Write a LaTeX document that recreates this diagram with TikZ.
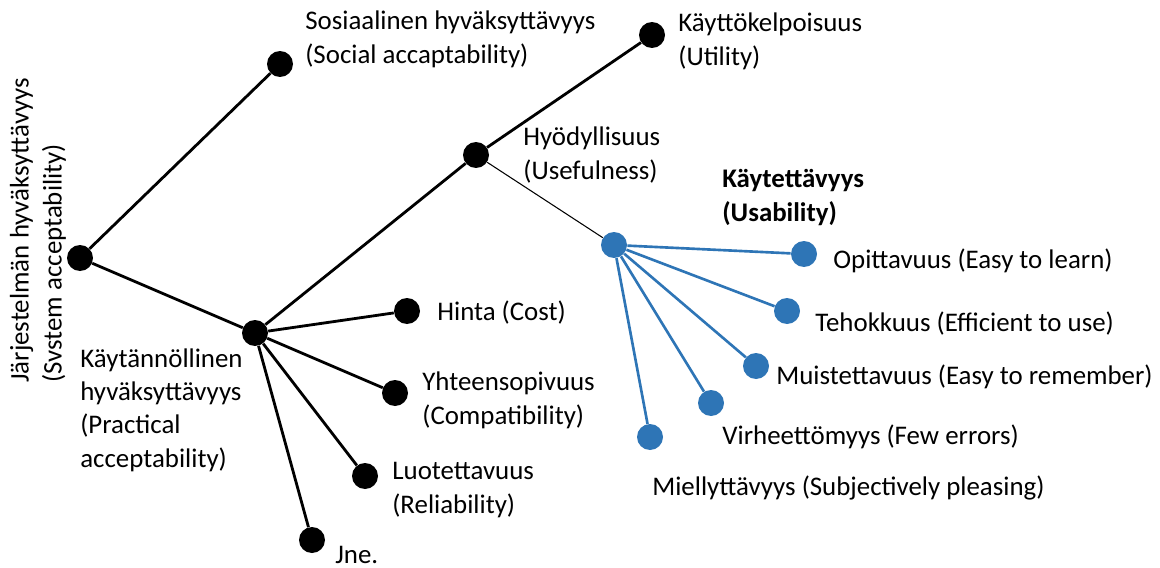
\documentclass[tikz,border=0pt]{standalone}
\usepackage{fontspec}
\setmainfont{Carlito}
\definecolor{usab}{RGB}{46,117,182}

\begin{document}
\begin{tikzpicture}[x=0.02cm,y=-0.02cm,font=\fontsize{15.3}{18.8}\selectfont,
    dot/.style={circle,fill=black,inner sep=0pt,minimum size=0.52cm},
    bdot/.style={dot,fill=usab},
    lbl/.style={anchor=base west,inner sep=0pt,align=left},
    br/.style={line width=1.6pt},
    bbr/.style={line width=1.5pt,draw=usab}]
    \useasboundingbox (0,0) rectangle (1160,568);
    % the acceptability tree
    \node[dot] (R) at (80,258) {};
    \node[dot] (S) at (280,64) {};
    \node[dot] (P) at (255,333) {};
    \node[dot] (H) at (476,155) {};
    \node[dot] (K) at (652,35) {};
    \node[dot] (C) at (407,311) {};
    \node[dot] (Y) at (395,393) {};
    \node[dot] (L) at (365,476) {};
    \node[dot] (J) at (312,540) {};
    \draw[br] (R) -- (S);
    \draw[br] (R) -- (P);
    \draw[br] (P) -- (H);
    \draw[br] (H) -- (K);
    \draw[br] (P) -- (C);
    \draw[br] (P) -- (Y);
    \draw[br] (P) -- (L);
    \draw[br] (P) -- (J);
    % usability
    \node[bdot] (U) at (614,245) {};
    \node[bdot] (U1) at (804,254) {};
    \node[bdot] (U2) at (787,311) {};
    \node[bdot] (U3) at (756,366) {};
    \node[bdot] (U4) at (711,403) {};
    \node[bdot] (U5) at (650,437) {};
    \draw[line width=0.6pt] (H) -- (U);
    \draw[bbr] (U) -- (U1);
    \draw[bbr] (U) -- (U2);
    \draw[bbr] (U) -- (U3);
    \draw[bbr] (U) -- (U4);
    \draw[bbr] (U) -- (U5);
    % labels (base = baseline of the last line)
    \node[rotate=90,align=left,inner sep=0pt,anchor=west] (tR) at (38,383) {Järjestelmän hyväksyttävyys\\(Svstem acceptability)};
    \node[lbl] (tS) at (305,63) {Sosiaalinen hyväksyttävyys\\(Social accaptability)};
    \node[lbl] (tP) at (80,467) {Käytännöllinen\\hyväksyttävyys\\(Practical\\acceptability)};
    \node[lbl] (tH) at (523,179) {Hyödyllisuus\\(Usefulness)};
    \node[lbl] (tK) at (678,65) {Käyttökelpoisuus\\(Utility)};
    \node[lbl] (tC) at (437,320) {Hinta (Cost)};
    \node[lbl] (tY) at (422,424) {Yhteensopivuus\\(Compatibility)};
    \node[lbl] (tL) at (392,513) {Luotettavuus\\(Reliability)};
    \node[lbl] (tJ) at (335,563) {Jne.};
    \node[lbl,font=\fontsize{15.3}{18.8}\selectfont\bfseries] (tU) at (722,221) {Käytettävyys\\(Usability)};
    \node[lbl] (tU1) at (833,268) {Opittavuus (Easy to learn)};
    \node[lbl] (tU2) at (815,331) {Tehokkuus (Efficient to use)};
    \node[lbl] (tU3) at (776,384) {Muistettavuus (Easy to remember)};
    \node[lbl] (tU4) at (722,444) {Virheettömyys (Few errors)};
    \node[lbl] (tU5) at (652,495) {Miellyttävyys (Subjectively pleasing)};
\end{tikzpicture}
\end{document}
